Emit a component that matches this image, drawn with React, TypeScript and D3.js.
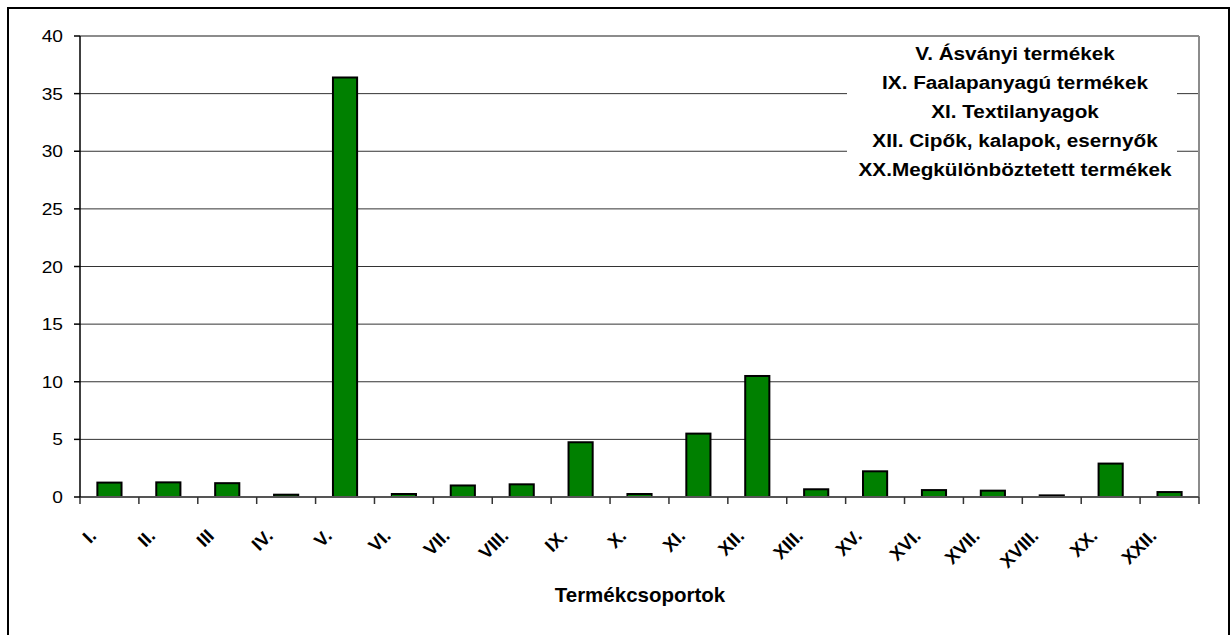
import React from "react";
import * as d3 from "d3";

const categories = ["I.", "II.", "III", "IV.", "V.", "VI.", "VII.", "VIII.", "IX.", "X.", "XI.", "XII.", "XIII.", "XV.", "XVI.", "XVII.", "XVIII.", "XX.", "XXII."];
const values = [1.25, 1.27, 1.2, 0.2, 36.4, 0.26, 1.0, 1.1, 4.75, 0.26, 5.5, 10.5, 0.67, 2.23, 0.6, 0.55, 0.14, 2.9, 0.43];
const yTicks = [0, 5, 10, 15, 20, 25, 30, 35, 40];
const legendLines = [
  "V. Ásványi termékek",
  "IX. Faalapanyagú termékek",
  "XI. Textilanyagok",
  "XII. Cipők, kalapok, esernyők",
  "XX.Megkülönböztetett termékek",
];
const xTitle = "Termékcsoportok";

const W = 1231;
const H = 635;
const FONT = "'Liberation Sans', Arial, sans-serif";

export default function App() {
  const left = 80, right = 1199, top = 36, bottom = 497;
  const x = d3.scaleBand<string>().domain(categories).range([left, right]).paddingInner(0.59).paddingOuter(0.295);
  const y = d3.scaleLinear().domain([0, 40]).range([bottom, top]);
  const step = x.step();
  const bw = x.bandwidth();
  const boundaries = d3.range(categories.length + 1).map((i) => left + i * step);

  return (
    <div style={{ position: "fixed", left: 0, top: 0, width: W, height: H, background: "#fff" }}>
      <svg width={W} height={H} style={{ display: "block" }}>
        <rect x={0} y={0} width={W} height={H} fill="#fff" />
        <rect x={8} y={8} width={1221} height={700} fill="#fff" stroke="#000" strokeWidth={2} />
        {/* gridlines */}
        {yTicks.filter((t) => t > 0 && t < 40).map((t) => (
          <line key={t} x1={left} x2={right} y1={y(t)} y2={y(t)} stroke="#333" strokeWidth={1} />
        ))}
        {/* plot border top/right */}
        <line x1={left} x2={right} y1={y(40)} y2={y(40)} stroke="#8c8c8c" strokeWidth={2} />
        <line x1={right} x2={right} y1={y(40)} y2={bottom} stroke="#8c8c8c" strokeWidth={2} />
        {/* legend box */}
        <rect x={847} y={38} width={330} height={150} fill="#fff" />
        {legendLines.map((l, i) => (
          <g key={l} transform={`translate(1015,${60 + i * 28.9}) scale(1.12,1)`}>
            <text textAnchor="middle" fontFamily={FONT} fontWeight="bold" fontSize={18.5} fill="#000">{l}</text>
          </g>
        ))}
        {/* bars */}
        {categories.map((c, i) => (
          <rect key={c} x={x(c)!} y={y(values[i])} width={bw} height={bottom - y(values[i])} fill="#008000" stroke="#000" strokeWidth={2} />
        ))}
        {/* x axis */}
        <line x1={left} x2={right} y1={bottom} y2={bottom} stroke="#555" strokeWidth={2} />
        {boundaries.map((bx, i) => (
          <line key={i} x1={bx} x2={bx} y1={bottom} y2={bottom + 7} stroke="#333" strokeWidth={1.5} />
        ))}
        {/* y axis */}
        <line x1={left} x2={left} y1={top} y2={bottom} stroke="#000" strokeWidth={1.5} />
        {yTicks.map((t) => (
          <g key={t}>
            <line x1={left - 6} x2={left} y1={y(t)} y2={y(t)} stroke="#000" strokeWidth={1.5} />
            <g transform={`translate(63,${y(t) + 6}) scale(1.13,1)`}>
              <text textAnchor="end" fontFamily={FONT} fontSize={17} fill="#000">{t}</text>
            </g>
          </g>
        ))}
        {/* x tick labels */}
        {categories.map((c) => (
          <text
            key={c}
            transform={`translate(${x(c)! + bw / 2 - 12},537) rotate(-45)`}
            textAnchor="end"
            fontFamily={FONT}
            fontWeight="bold"
            fontSize={18.5}
            fill="#000"
          >
            {c}
          </text>
        ))}
        <text x={640} y={602} textAnchor="middle" fontFamily={FONT} fontWeight="bold" fontSize={20.5} fill="#000">{xTitle}</text>
      </svg>
    </div>
  );
}
